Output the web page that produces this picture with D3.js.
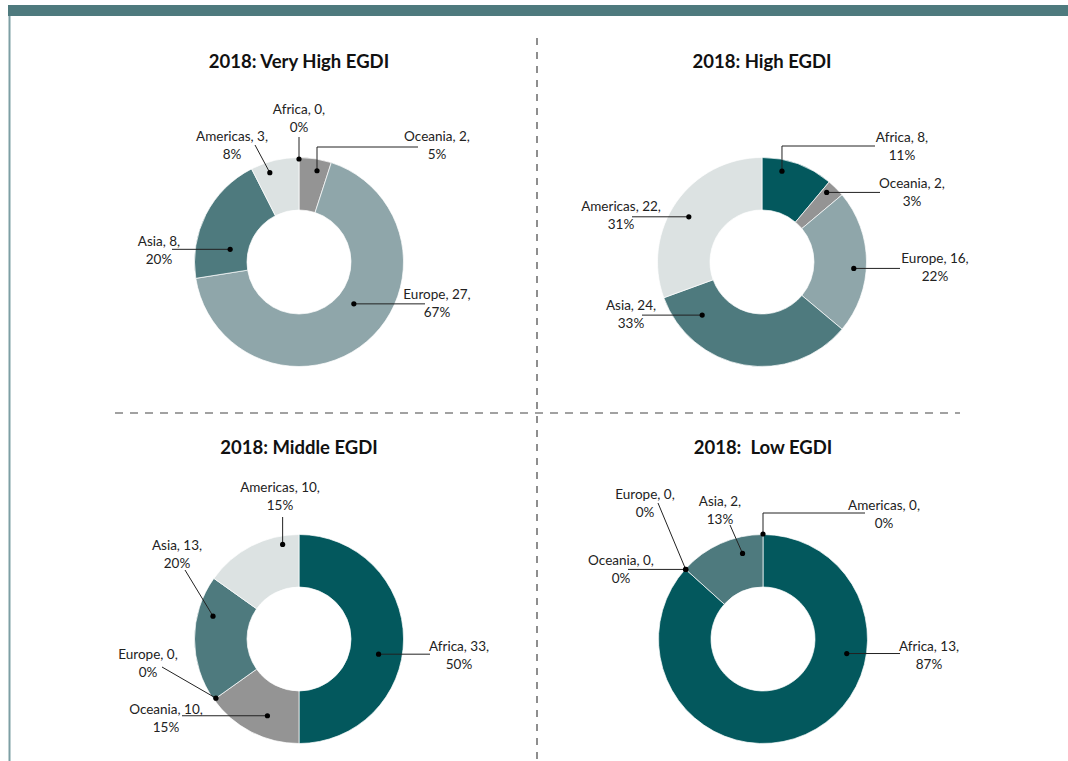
<!DOCTYPE html>
<html>
<head>
<meta charset="utf-8">
<script src="https://cdn.jsdelivr.net/npm/d3@7"></script>
<style>
  html, body { margin: 0; padding: 0; background: #fff; }
  svg { display: block; font-family: Lato, "Open Sans", sans-serif; }
  .title { font-weight: bold; font-size: 18.5px; fill: #111; }
  .label { font-size: 13.5px; fill: #222; }
</style>
</head>
<body>
<svg id="chart" width="1068" height="761"></svg>
<script>
// data
var regions = ["Africa", "Oceania", "Europe", "Asia", "Americas"];
var titles = ["2018: Very High EGDI", "2018: High EGDI", "2018: Middle EGDI", "2018:\u00a0 Low EGDI"];
var veryHighCounts = [0, 2, 27, 8, 3];
var highCounts = [8, 2, 16, 24, 22];
var middleCounts = [33, 10, 0, 13, 10];
var lowCounts = [13, 0, 0, 2, 0];
var veryHighPct = [0, 5, 67, 20, 8];
var highPct = [11, 3, 22, 33, 31];
var middlePct = [50, 15, 0, 20, 15];
var lowPct = [87, 0, 0, 13, 0];

var colors = ["#03585d", "#949494", "#8fa6aa", "#4e7a7e", "#dce2e2"];

// layout: donut centres, and per label the text anchor, leader kind/end and
// where the dot sits inside its slice (t = fraction of the slice angle, r = radius)
var panels = [
  {cx: 299, cy: 262, counts: veryHighCounts, pct: veryHighPct, labels: [
    {tx: 0, ty: -148, kind: "v", ey: -125, t: 0.5, r: 103},
    {tx: 138, ty: -121, kind: "v", ex: 119, ey: -115, t: 0.62, r: 93},
    {tx: 138, ty: 37, kind: "h", ex: 126, t: 0.45, r: 69},
    {tx: -140, ty: -16, kind: "h", ex: -127, t: 0.27, r: 70},
    {tx: -67, ty: -121, kind: "s", ex: -44, ey: -117, t: 0.33, r: 94}
  ]},
  {cx: 762, cy: 262, counts: highCounts, pct: highPct, labels: [
    {tx: 140, ty: -120, kind: "v", ex: 113, ey: -116, t: 0.31, r: 93},
    {tx: 150, ty: -74, kind: "h", ex: 118, t: 0.29, r: 95},
    {tx: 173, ty: 1, kind: "h", ex: 138, t: 0.55, r: 92},
    {tx: -131, ty: 48, kind: "h", ex: -120, t: 0.82, r: 80},
    {tx: -141, ty: -51, kind: "h", ex: -130, t: 0.47, r: 86}
  ]},
  {cx: 299, cy: 639, counts: middleCounts, pct: middlePct, labels: [
    {tx: 160, ty: 12, kind: "h", ex: 131, t: 0.56, r: 81},
    {tx: -133, ty: 75, kind: "h", ex: -117, t: 0.41, r: 83},
    {tx: -151, ty: 20, kind: "s", ex: -137, ey: 28, t: 0.5, r: 102},
    {tx: -122, ty: -89, kind: "s", ex: -114, ey: -69, t: 0.71, r: 89},
    {tx: -19, ty: -147, kind: "v", ey: -122, t: 0.82, r: 96}
  ]},
  {cx: 763, cy: 639, counts: lowCounts, pct: lowPct, labels: [
    {tx: 166, ty: 12, kind: "h", ex: 137, t: 0.32, r: 85},
    {tx: -142, ty: -74, kind: "h", ex: -135, t: 0.5, r: 104},
    {tx: -118, ty: -140, kind: "s", ex: -105, ey: -136, t: 0.5, r: 104},
    {tx: -43, ty: -133, kind: "s", ex: -33, ey: -114, t: 0.72, r: 88},
    {tx: 121, ty: -129, kind: "v", ex: 102, ey: -126, t: 0.5, r: 105}
  ]}
];

var titleY = [68, 68, 454, 454];
var outerR = 104.5, innerR = 52;

var svg = d3.select("#chart");

//
// frame: top band, left rule, dashed quadrant dividers
svg.append("rect").attr("x", 8).attr("y", 5).attr("width", 1060).attr("height", 11)
  .attr("fill", "#4e7a7e");
svg.append("line").attr("x1", 9.5).attr("x2", 9.5).attr("y1", 16).attr("y2", 761)
  .attr("stroke", "#7d9fa4").attr("stroke-width", 2);
svg.append("line").attr("x1", 537).attr("x2", 537).attr("y1", 38).attr("y2", 761)
  .attr("stroke", "#444").attr("stroke-width", 1.2).attr("stroke-dasharray", "7,7");
svg.append("line").attr("x1", 115).attr("x2", 960).attr("y1", 413).attr("y2", 413)
  .attr("stroke", "#444").attr("stroke-width", 1.2).attr("stroke-dasharray", "8,7");

var pie = d3.pie().sort(null).value((d) => d);
var arc = d3.arc().innerRadius(innerR).outerRadius(outerR);

panels.forEach(function(p, pi) {
  var g = svg.append("g").attr("transform", "translate(" + p.cx + "," + p.cy + ")");
  var arcs = pie(p.counts);

  svg.append("text").attr("class", "title")
    .attr("x", p.cx).attr("y", titleY[pi])
    .attr("text-anchor", "middle")
    .text(titles[pi]);

  g.selectAll("path.slice")
    .data(arcs.filter((d) => d.value > 0))
    .enter().append("path")
    .attr("class", "slice")
    .attr("d", arc)
    .attr("fill", (d) => colors[d.index])
    .attr("stroke", "#fff").attr("stroke-width", 0.7);

  //
  // leaders + dots + two-line labels
  arcs.forEach(function(a, i) {
    var L = p.labels[i],
        ang = a.startAngle + L.t * (a.endAngle - a.startAngle),
        dx = L.r * Math.sin(ang),
        dy = -L.r * Math.cos(ang),
        pts;

    if(L.kind === "h") { pts = [[dx, dy], [L.ex, dy]]; }
    else if(L.kind === "v") { pts = [[dx, dy], [dx, L.ey], [L.ex === undefined ? dx : L.ex, L.ey]]; }
    else { pts = [[dx, dy], [L.ex, L.ey]]; }

    g.append("path")
      .attr("d", d3.line()(pts))
      .attr("fill", "none").attr("stroke", "#222").attr("stroke-width", 1);
    g.append("circle").attr("cx", dx).attr("cy", dy).attr("r", 2.6).attr("fill", "#000");

    var t = g.append("text").attr("class", "label")
      .attr("x", L.tx).attr("y", L.ty).attr("text-anchor", "middle");
    t.append("tspan").attr("x", L.tx).text(regions[i] + ", " + a.value + ",");
    t.append("tspan").attr("x", L.tx).attr("dy", 18).text(p.pct[i] + "%");
  });
});
</script>
</body>
</html>
